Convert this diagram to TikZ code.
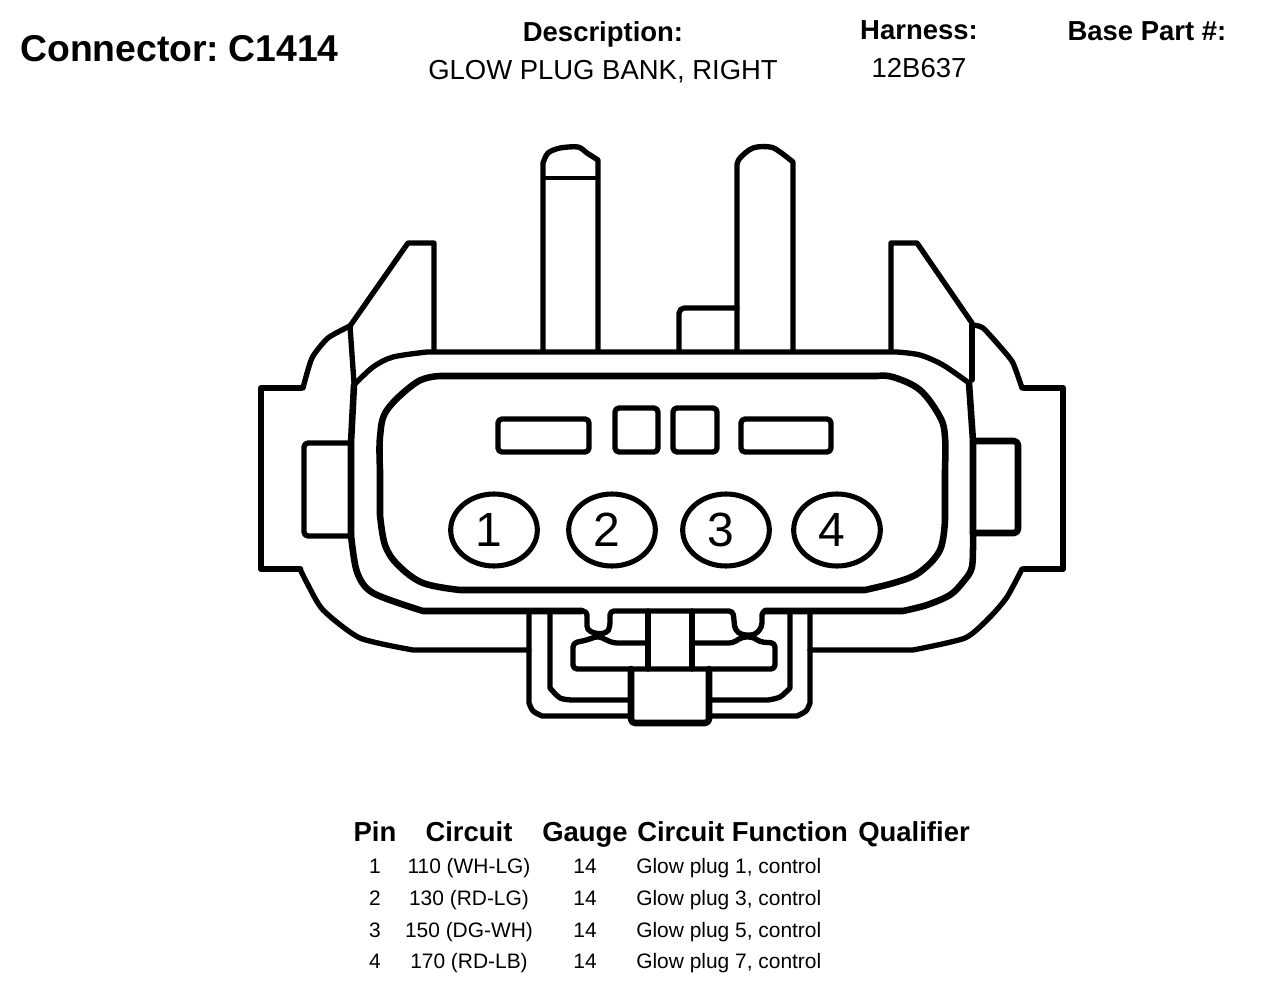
\documentclass[tikz,border=0pt]{standalone}
\usepackage{fontspec}
\setmainfont{Liberation Sans}
\usetikzlibrary{shapes.geometric}
\newcommand{\pindigit}[1]{\raisebox{-3pt}{#1}\hspace*{7.5pt}}
\tikzset{
  shell/.style = {draw, line width=4pt, line join=round, line cap=round},
  wide/.style = {shell, line width=4.9pt},
  slot/.style = {shell, rounded corners=3pt},
  cavity/.style = {shape=ellipse, draw, line width=3.8pt, inner sep=0pt,
    minimum width=65pt, minimum height=54pt, font=\fontsize{36}{38}\selectfont},
  head/.style = {inner sep=0pt, anchor=base, font=\fontsize{20.6}{24}\selectfont\bfseries},
  plain/.style = {inner sep=0pt, anchor=base, font=\fontsize{20.6}{24}\selectfont},
  row/.style = {inner sep=0pt, anchor=base, font=\fontsize{15.7}{18}\selectfont},
}
\begin{document}
\begin{tikzpicture}[x=.75pt, y=-.75pt]
  \useasboundingbox (0,0) rectangle (1264,988);

  % page heading
  \node[head, anchor=base west, font=\fontsize{28}{32}\selectfont\bfseries] (title) at (20,62) {Connector:\kern-.7pt\ C1414};
  \node[head] (descHead) at (603,42) {Description:};
  \node[plain] (descText) at (603,80) {GLOW PLUG BANK, RIGHT};
  \node[head] (harnessHead) at (919,40) {Harness:};
  \node[plain] (harnessText) at (919,78) {12B637};
  \node[head] (partHead) at (1147,41) {Base Part \#:};

  % blades on top
  \draw[shell] (543,350) -- plot[smooth, tension=.5] coordinates {(543,163) (548,153) (560,148) (578,147) (587,153) (598,160)} -- (598,350);
  \draw[shell, line width=3pt] (543,178) -- (598,178);
  \draw[shell] (737,350) -- plot[smooth, tension=.6] coordinates {(737,165) (740,158) (753,148) (770,147) (780,152) (793,162)} -- (793,350);
  \draw[shell, rounded corners=4pt] (679,350) -- (679,308) -- (737,308);

  % latch wedges
  \draw[shell] (350,326) -- (408,243) -- (434,243) -- (434,350);
  \draw[shell] (891,350) -- (891,243) -- (917,243) -- (972,323);

  % outer shell
  \draw[wide] (301,388) -- (261,388) -- (261,569) -- (300,569);
  \draw[shell] plot[smooth, tension=.4] coordinates {(303,388) (312,358) (328,338) (350,326)};
  \draw[shell] plot[smooth, tension=.4] coordinates {(300,569) (307,583) (323,610) (360,638) (413,650)} -- (529,650);
  \draw[wide] (1024,388) -- (1063,388) -- (1063,569) -- (1024,569);
  \draw[shell] plot[smooth, tension=.4] coordinates {(972,325) (983,328) (1003,350) (1013,363) (1022,388)};
  \draw[shell] plot[smooth, tension=.4] coordinates {(1022,569) (1007,597) (990,617) (965,638) (913,650)} -- (810,650);

  % side tabs
  \draw[shell, rounded corners=3pt] (351,443) -- (304,443) -- (304,536) -- (351,536);
  \draw[wide, rounded corners=3pt] (973,441) -- (1018,441) -- (1018,533) -- (973,533);
  \draw[shell] (350,326) -- (354,383);
  \draw[shell] (972,325) -- (972,380);

  % body
  \draw[wide] (354,385) -- (351,443) -- (351,535);
  \draw[shell] plot[smooth, tension=.5] coordinates {(354,385) (373,367) (393,357) (427,352)} -- plot[smooth, tension=.5] coordinates {(897,352) (920,355) (943,365) (969,383)};
  \draw[wide] (969,383) -- (973,441) -- (973,533);
  \draw[wide] plot[smooth, tension=.5] coordinates {(351,535) (357,572) (373,593) (423,611)} -- (582,611);
  \draw[wide] plot[smooth, tension=.5] coordinates {(973,533) (972,567) (963,582) (950,595) (927,605) (903,611)} -- (765,611);

  % cavity
  \draw[wide] plot[smooth, tension=.6] coordinates {(380,470) (380,437) (387,410) (417,382) (440,376)} -- plot[smooth, tension=.6] coordinates {(877,376) (893,377) (920,390) (940,417) (945,437) (945,470)} -- plot[smooth, tension=.6] coordinates {(945,520) (940,550) (920,572) (897,582) (865,590)} -- plot[smooth, tension=.6] coordinates {(460,590) (423,583) (398,565) (385,545) (380,515)} -- cycle;

  % keys in the cavity
  \draw[slot] (498,419) rectangle (589,452);
  \draw[slot] (615,408) rectangle (658,452);
  \draw[slot] (673,408) rectangle (717,452);
  \draw[slot] (741,419) rectangle (831,452);

  % pin cavities
  \node[cavity] (pin1) at (494,530) {\pindigit{1}};
  \node[cavity] (pin2) at (612,530) {\pindigit{2}};
  \node[cavity] (pin3) at (726,530) {\pindigit{3}};
  \node[cavity] (pin4) at (837,530) {\pindigit{4}};

  % clip at the bottom
  \draw[shell] (529,611) -- plot[smooth, tension=.5] coordinates {(529,703) (533,711) (542,716)} -- (631,716);
  \draw[shell] (810,611) -- plot[smooth, tension=.5] coordinates {(810,703) (806,711) (797,716)} -- (709,716);
  \draw[shell] (550,611) -- plot[smooth, tension=.5] coordinates {(550,688) (560,698) (572,700)} -- (631,700);
  \draw[shell] (790,611) -- plot[smooth, tension=.5] coordinates {(790,688) (780,697) (768,700)} -- (709,700);
  \draw[shell, rounded corners=3pt] (582,611) -- (587,611) -- (587,630) -- (597,634) -- (607,633) -- (610,627) -- (610,611) -- (733,611) -- (735,630) -- (742,635) -- (755,635) -- (762,627) -- (762,611) -- (770,611);
  \draw[shell, rounded corners=3pt] (648,643) -- (613,643) -- (598,636) -- (587,640) -- (573,643) -- (573,669) -- (775,669) -- (775,643) -- (760,642) -- (753,637) -- (742,637) -- (733,643) -- (692,643);
  \draw[shell] (648,611) -- (648,669);
  \draw[shell] (692,611) -- (692,669);
  \draw[wide, rounded corners=3pt] (631,669) -- (631,723) -- (709,723) -- (709,669);

  % pin table
  \node[head] (hdPin) at (375,841) {Pin};
  \node[head] (hdCircuit) at (469,841) {Circuit};
  \node[head] (hdGauge) at (585,841) {Gauge};
  \node[head, anchor=base west] (hdFunction) at (637,841) {Circuit Function};
  \node[head, anchor=base west] (hdQualifier) at (858,841) {Qualifier};

  \node[row] (pinA) at (375,873) {1};
  \node[row] (circuitA) at (469,873) {110 (WH-LG)};
  \node[row] (gaugeA) at (585,873) {14};
  \node[row, anchor=base west] (funcA) at (636,873) {Glow plug 1, control};

  \node[row] (pinB) at (375,905) {2};
  \node[row] (circuitB) at (469,905) {130 (RD-LG)};
  \node[row] (gaugeB) at (585,905) {14};
  \node[row, anchor=base west] (funcB) at (636,905) {Glow plug 3, control};

  \node[row] (pinC) at (375,937) {3};
  \node[row] (circuitC) at (469,937) {150 (DG-WH)};
  \node[row] (gaugeC) at (585,937) {14};
  \node[row, anchor=base west] (funcC) at (636,937) {Glow plug 5, control};

  \node[row] (pinD) at (375,968) {4};
  \node[row] (circuitD) at (469,968) {170 (RD-LB)};
  \node[row] (gaugeD) at (585,968) {14};
  \node[row, anchor=base west] (funcD) at (636,968) {Glow plug 7, control};
\end{tikzpicture}
\end{document}
